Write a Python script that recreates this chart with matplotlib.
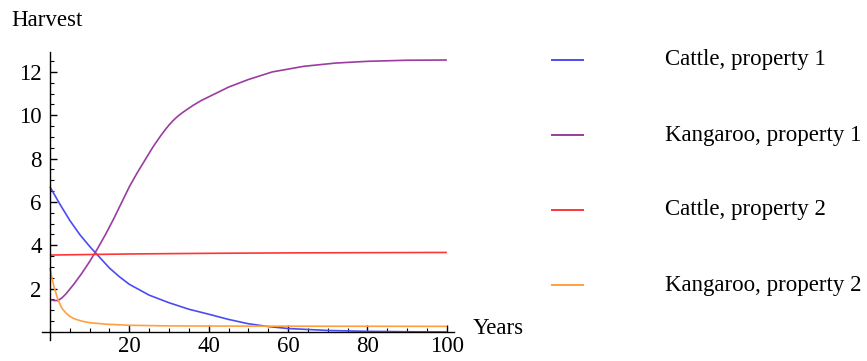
import matplotlib
matplotlib.use("Agg")
import matplotlib.pyplot as plt
from matplotlib.lines import Line2D
from matplotlib.ticker import MultipleLocator, FixedLocator

plt.rcParams['font.family'] = ['Liberation Serif', 'DejaVu Serif']

# Data
cattle1_x = [0, 2.5, 5, 7.5, 10, 12.5, 15, 17.5, 20, 25, 30, 35, 40, 45, 50, 55, 60, 70, 80, 90, 100]
cattle1_y = [6.7, 5.9, 5.15, 4.5, 3.95, 3.45, 2.95, 2.55, 2.2, 1.7, 1.35, 1.05, 0.82, 0.58, 0.38, 0.25, 0.16, 0.07, 0.03, 0.01, 0.0]

kang1_x = [0, 1, 2, 3, 4, 6, 8, 10, 12, 14, 16, 18, 20, 22, 24, 26, 28, 29, 30, 31, 32, 33, 34, 36, 38, 40, 45, 50, 56, 64, 72, 80, 90, 100]
kang1_y = [1.5, 1.45, 1.45, 1.57, 1.75, 2.2, 2.7, 3.25, 3.85, 4.5, 5.2, 5.95, 6.7, 7.35, 7.95, 8.55, 9.08, 9.32, 9.55, 9.75, 9.92, 10.07, 10.2, 10.45, 10.67, 10.85, 11.3, 11.65, 12.0, 12.26, 12.41, 12.49, 12.54, 12.55]

cattle2_x = [0, 20, 40, 60, 80, 100]
cattle2_y = [3.55, 3.6, 3.63, 3.65, 3.66, 3.67]

kang2_x = [0, 0.5, 1, 1.5, 2, 2.5, 3, 4, 5, 6, 8, 10, 14, 20, 30, 50, 75, 100]
kang2_y = [2.95, 2.5, 2.1, 1.8, 1.5, 1.3, 1.1, 0.88, 0.72, 0.62, 0.5, 0.43, 0.36, 0.31, 0.28, 0.27, 0.265, 0.26]

series_labels = ["Cattle, property 1", "Kangaroo, property 1", "Cattle, property 2", "Kangaroo, property 2"]
series_colors = ["#4b4bf5", "#9a3ca0", "#ff3535", "#ffa040"]
x_ticks = [20, 40, 60, 80, 100]
y_ticks = [2, 4, 6, 8, 10, 12]

W, H = 867, 361
fig = plt.figure(figsize=(W / 100, H / 100), dpi=100)
ax = fig.add_axes([42 / W, (H - 340) / H, (454 - 42) / W, (340 - 52) / H])

xs = [cattle1_x, kang1_x, cattle2_x, kang2_x]
ys = [cattle1_y, kang1_y, cattle2_y, kang2_y]
for x, y, c in zip(xs, ys, series_colors):
    ax.plot(x, y, color=c, lw=1.2, solid_capstyle='butt', solid_joinstyle='round')

ax.set_xlim(-2, 101.8)
ax.set_ylim(-0.37, 12.92)

for s in ['top', 'right']:
    ax.spines[s].set_visible(False)
ax.spines['left'].set_position(('data', 0))
ax.spines['bottom'].set_position(('data', 0))
for s in ['left', 'bottom']:
    ax.spines[s].set_linewidth(1.0)
    ax.spines[s].set_color('black')

ax.xaxis.set_major_locator(FixedLocator(x_ticks))
ax.yaxis.set_major_locator(FixedLocator(y_ticks))
ax.xaxis.set_minor_locator(MultipleLocator(5))
ax.yaxis.set_minor_locator(MultipleLocator(0.5))
ax.tick_params(axis='both', which='major', direction='in', length=5, width=1.0, labelsize=16.5)
ax.tick_params(axis='both', which='minor', direction='in', length=3, width=0.8)
ax.tick_params(axis='x', which='major', pad=3)
ax.tick_params(axis='y', which='major', pad=6)
ax.set_facecolor('none')

fig.text(11 / W, 1 - 20 / H, "Harvest", fontsize=16.5, ha='left', va='center')
fig.text(473 / W, 1 - 328 / H, "Years", fontsize=16.5, ha='left', va='center')

legend_y = [60, 135, 210, 285]
for ly, lab, c in zip(legend_y, series_labels, series_colors):
    fig.add_artist(Line2D([552 / W, 583 / W], [1 - ly / H, 1 - ly / H], color=c, lw=1.4,
                          transform=fig.transFigure))
    fig.text(665 / W, 1 - ly / H, lab, fontsize=16.5, ha='left', va='center')

fig.savefig("out.png", dpi=100)
